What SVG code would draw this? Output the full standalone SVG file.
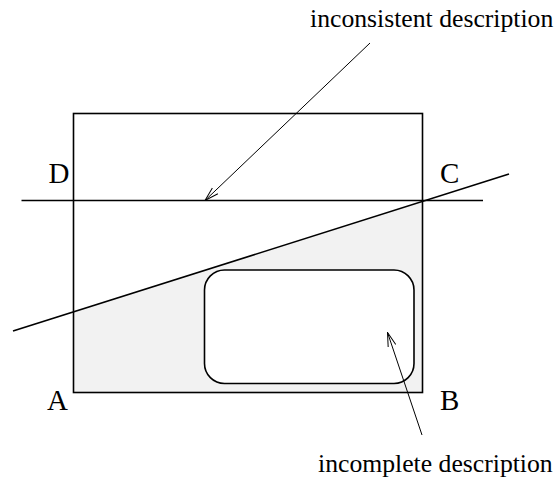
<svg xmlns="http://www.w3.org/2000/svg" width="558" height="479" viewBox="0 0 558 479">
<style>
.thick{fill:none;stroke:#000;stroke-width:1.6}
.thin{fill:none;stroke:#000;stroke-width:1}
.box{fill:#fff;stroke:#000;stroke-width:1.6}
.lbl{font-family:"Liberation Serif","Times New Roman",serif;font-size:29px;fill:#000}
.desc{font-family:"Liberation Serif","Times New Roman",serif;font-size:25.7px;fill:#000}
</style>
<defs>
<marker id="open" viewBox="0 0 14 10" refX="14" refY="5" markerWidth="14" markerHeight="10" markerUnits="userSpaceOnUse" orient="auto">
<path d="M0,1 L14,5 L0,9" fill="none" stroke="#000" stroke-width="1"/>
</marker>
</defs>
<rect width="558" height="479" fill="#fff"/>
<g id="region">
<polygon points="73.5,311.9 422.5,201.4 422.5,392.5 73.5,392.5" fill="#f2f2f2"/>
<rect x="73.5" y="113.5" width="349" height="279" class="thick"/>
</g>
<g id="subregion">
<rect x="204.5" y="270" width="209.5" height="113.5" rx="20" ry="20" class="box"/>
</g>
<g id="lines">
<line x1="21.5" y1="200.5" x2="483" y2="200.5" class="thick"/>
<line x1="13" y1="331" x2="509" y2="174" class="thick"/>
</g>
<g id="labels">
<text class="lbl" x="48.5" y="182.5">D</text>
<text class="lbl" x="440" y="182.5">C</text>
<text class="lbl" x="47" y="409.5">A</text>
<text class="lbl" x="440" y="409.5">B</text>
</g>
<g id="connectors">
<line x1="370" y1="43" x2="205" y2="200.5" class="thin" marker-end="url(#open)"/>
<line x1="422" y1="435" x2="387.5" y2="332.5" class="thin" marker-end="url(#open)"/>
</g>
<g id="desc-inconsistent">
<text class="desc" x="310" y="27">inconsistent description</text>
</g>
<g id="desc-incomplete">
<text class="desc" x="318" y="471.5">incomplete description</text>
</g>
</svg>
